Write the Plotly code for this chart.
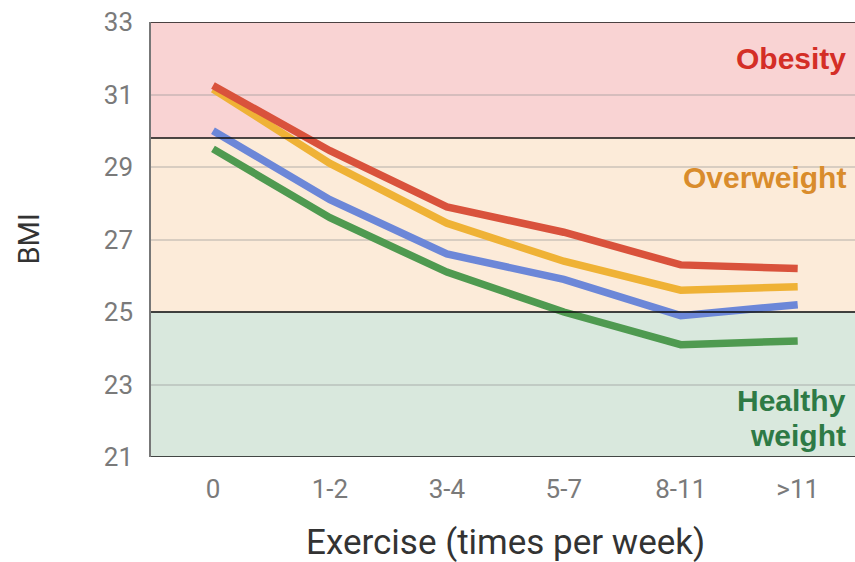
import plotly.graph_objects as go

# Exercise frequency categories and BMI per group
categories = ["0", "1-2", "3-4", "5-7", "8-11", ">11"]
series_red = [31.25, 29.45, 27.9, 27.2, 26.3, 26.2]
series_orange = [31.15, 29.1, 27.45, 26.4, 25.6, 25.7]
series_blue = [30.0, 28.1, 26.6, 25.9, 24.9, 25.2]
series_green = [29.5, 27.6, 26.1, 25.0, 24.1, 24.2]

y_ticks = [21, 23, 25, 27, 29, 31, 33]
band_bounds = [21, 25, 29.8, 33]
band_colors = ["#d9e8dd", "#fcebd9", "#f9d3d3"]

fig = go.Figure()

# Shaded BMI category bands
for lo, hi, col in zip(band_bounds[:-1], band_bounds[1:], band_colors):
    fig.add_shape(type="rect", xref="paper", yref="y", x0=0, x1=1, y0=lo, y1=hi,
                  fillcolor=col, line_width=0, layer="below")

# Threshold lines
for b in band_bounds:
    fig.add_shape(type="line", xref="paper", yref="y", x0=0, x1=1, y0=b, y1=b,
                  line=dict(color="#111111", width=1.6), layer="above")

line_specs = [
    (series_green, "#4f9a50"),
    (series_blue, "#6c87d8"),
    (series_orange, "#efb236"),
    (series_red, "#d9523c"),
]
for vals, col in line_specs:
    fig.add_trace(go.Scatter(x=categories, y=vals, mode="lines",
                             line=dict(color=col, width=7.5),
                             showlegend=False, hoverinfo="skip"))

label_font = "Liberation Sans, Arial, sans-serif"
fig.add_annotation(xref="paper", yref="y", x=1, y=32.0, xanchor="right", xshift=-7,
                   text="<b>Obesity</b>", showarrow=False,
                   font=dict(family=label_font, size=30, color="#d42e26"))
fig.add_annotation(xref="paper", yref="y", x=1, y=28.7, xanchor="right", xshift=-7,
                   text="<b>Overweight</b>", showarrow=False,
                   font=dict(family=label_font, size=30, color="#d98c2c"))
fig.add_annotation(xref="paper", yref="y", x=1, y=22.55, xanchor="right", xshift=-7,
                   text="<b>Healthy</b>", showarrow=False,
                   font=dict(family=label_font, size=30, color="#2e7a45"))
fig.add_annotation(xref="paper", yref="y", x=1, y=21.6, xanchor="right", xshift=-7,
                   text="<b>weight</b>", showarrow=False,
                   font=dict(family=label_font, size=30, color="#2e7a45"))

# Axis titles
fig.add_annotation(xref="paper", yref="paper", x=0, y=0.5, xshift=-123,
                   xanchor="center", yanchor="middle", textangle=-90,
                   text="BMI", showarrow=False,
                   font=dict(family="Roboto, sans-serif", size=29, color="#333333"))
fig.add_annotation(xref="x", yref="paper", x=2.5, y=0, yshift=-85,
                   xanchor="center", yanchor="middle",
                   text="Exercise (times per week)", showarrow=False,
                   font=dict(family="Roboto, sans-serif", size=35, color="#333333"))

fig.update_layout(
    width=855, height=562,
    margin=dict(l=151, r=0, t=22, b=105),
    paper_bgcolor="white", plot_bgcolor="white",
    font=dict(family="Roboto, sans-serif"),
)
fig.update_xaxes(
    type="category", range=[-0.53, 5.49],
    showgrid=False, zeroline=False, showline=False,
    ticks="", tickfont=dict(size=26, color="#7a7a7a"), ticklabelstandoff=14,
)
fig.update_yaxes(
    range=[21, 33], tickvals=y_ticks,
    showgrid=True, gridcolor="rgba(150,150,150,0.35)", gridwidth=1.5,
    zeroline=False, showline=True, linecolor="#777777", linewidth=1.5,
    ticks="", tickfont=dict(size=26, color="#7a7a7a"), ticklabelstandoff=11,
)

fig.write_html("out.html")
